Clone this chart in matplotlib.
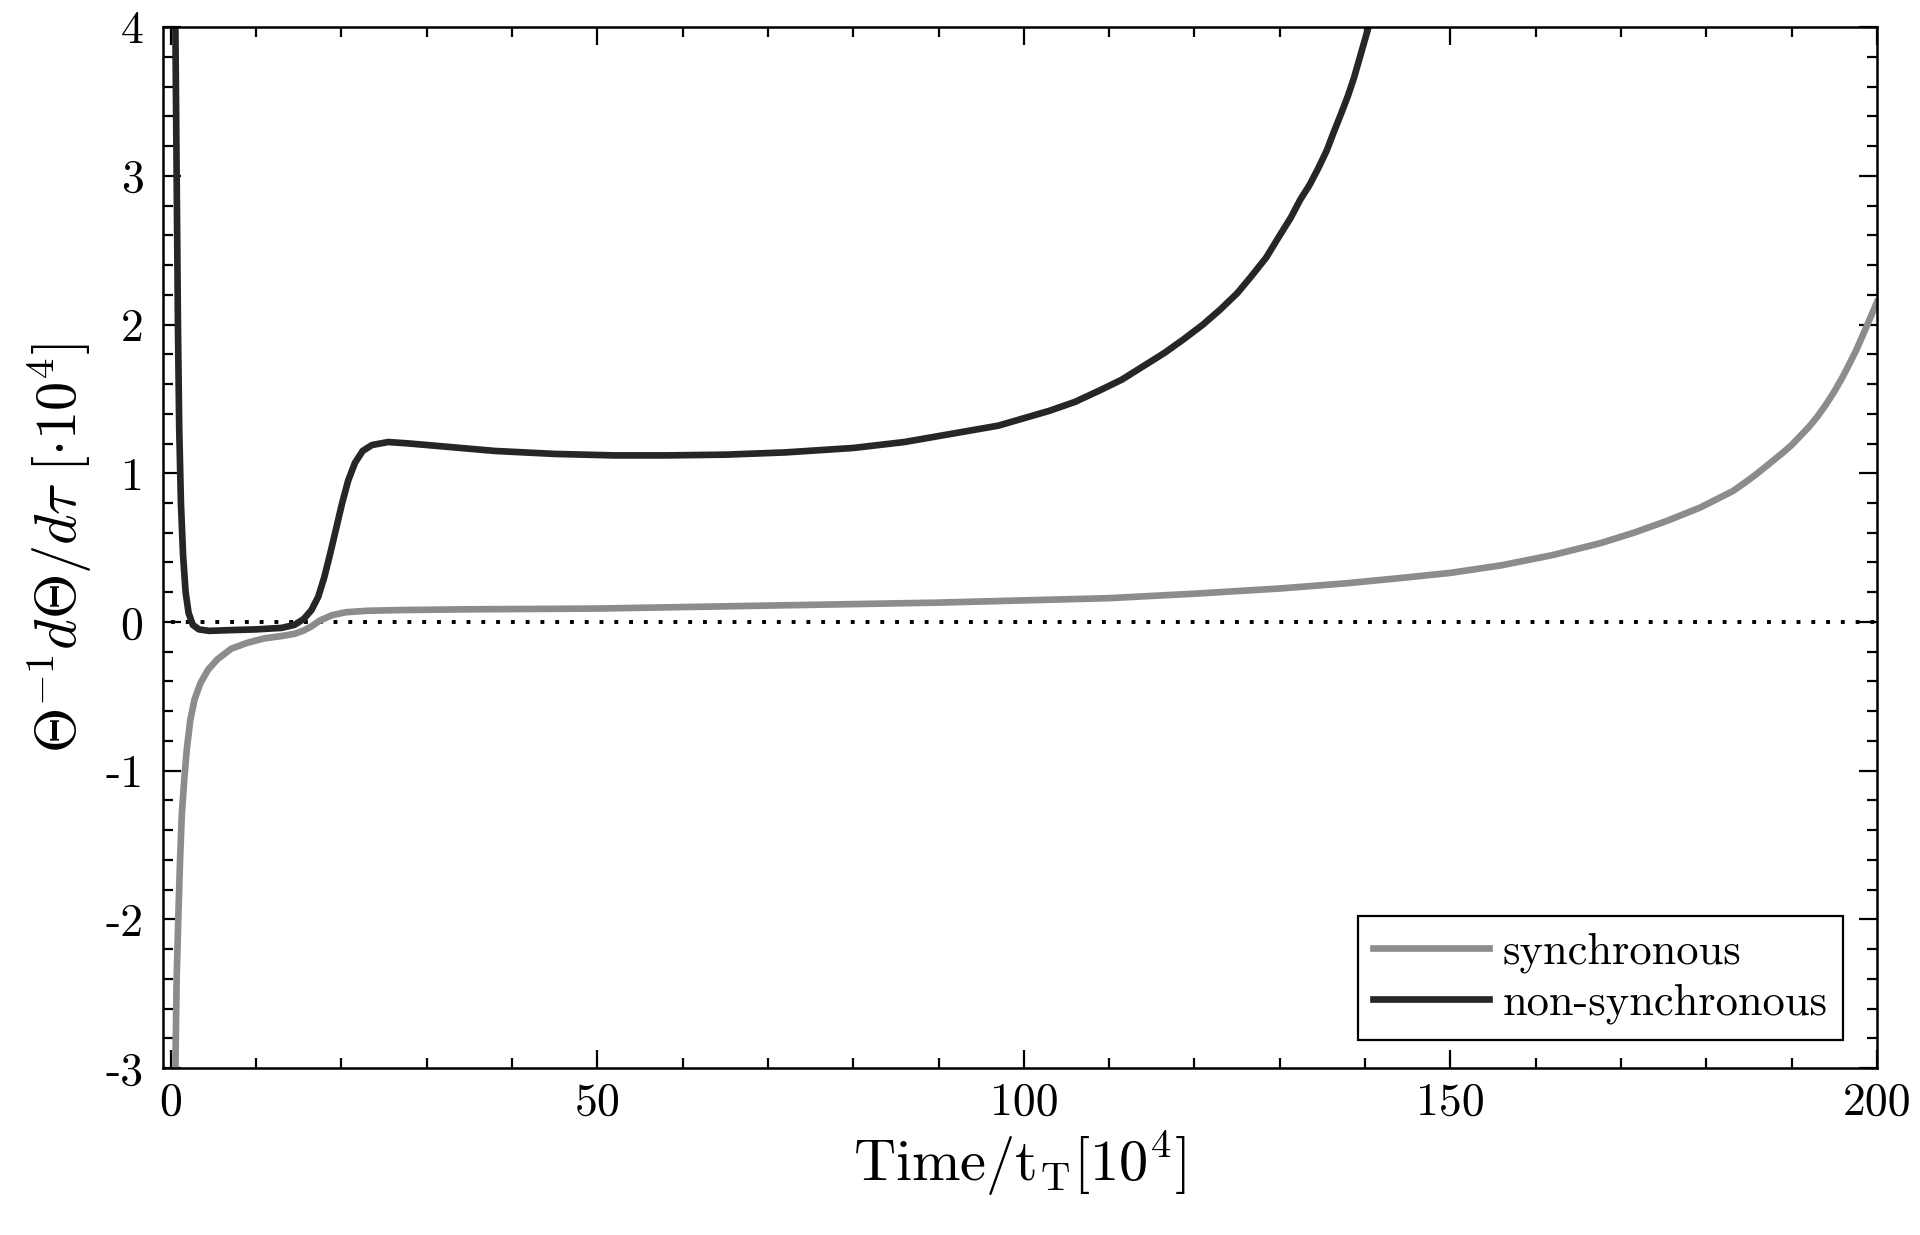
import matplotlib
matplotlib.use('Agg')
import matplotlib.pyplot as plt

plt.rcParams['font.family'] = 'serif'
plt.rcParams['font.serif'] = ['cmr10']
plt.rcParams['mathtext.fontset'] = 'cm'
plt.rcParams['axes.unicode_minus'] = False
plt.rcParams['axes.formatter.use_mathtext'] = True

# non-synchronous (dark) curve
t_nonsync = [0.40, 0.55, 0.70, 0.85, 1.0, 1.2, 1.45, 1.75, 2.1, 2.6, 3.3, 4.5, 7.0, 10.0,
             13.0, 14.5, 15.6, 16.5, 17.3, 18.0, 18.7, 19.4, 20.1, 20.8, 21.6, 22.5,
             23.6, 25.5, 28.0, 32.0, 38.0, 45.0, 52.0, 58.0, 65.0, 72.0, 80.0, 86.0,
             92.0, 97.0, 100.0, 103.0, 106.0, 109.0, 111.5, 114.0, 116.5, 118.7, 121.0,
             123.0, 125.0, 126.6, 128.4, 130.0, 131.3, 132.4, 133.5, 134.5, 135.5,
             136.3, 137.2, 138.0, 138.7, 139.5, 140.3, 141.0]
v_nonsync = [4.6, 4.0, 3.0, 2.0, 1.3, 0.8, 0.45, 0.2, 0.06, -0.02, -0.05, -0.06, -0.055, -0.05,
             -0.04, -0.02, 0.02, 0.08, 0.17, 0.30, 0.46, 0.63, 0.80, 0.95, 1.07, 1.15,
             1.19, 1.21, 1.20, 1.18, 1.15, 1.13, 1.12, 1.12, 1.125, 1.14, 1.17, 1.21,
             1.27, 1.32, 1.37, 1.42, 1.48, 1.56, 1.63, 1.72, 1.81, 1.90, 2.00,
             2.10, 2.21, 2.32, 2.45, 2.60, 2.72, 2.84, 2.94, 3.05, 3.17,
             3.29, 3.42, 3.54, 3.66, 3.82, 3.98, 4.15]

# synchronous (light) curve
t_sync = [0.45, 0.55, 0.70, 0.90, 1.1, 1.3, 1.6, 1.9, 2.3, 2.8, 3.5, 4.4, 5.5, 7.1, 9.0,
          11.0, 13.0, 14.5, 15.5, 16.5, 17.5, 18.9, 20.5, 23.0, 27.0, 35.0, 50.0, 70.0,
          90.0, 100.0, 110.0, 120.0, 130.0, 137.8, 144.1, 150.0, 155.9, 162.0, 167.6,
          171.5, 175.4, 179.3, 183.1, 184.6, 186.0, 187.5, 189.0, 190.0, 191.0, 192.0,
          193.0, 194.0, 195.0, 196.0, 196.8, 197.5, 198.2, 198.8, 199.4, 200.0]
v_sync = [-3.6, -3.0, -2.4, -1.97, -1.6, -1.30, -1.05, -0.85, -0.66, -0.52, -0.41, -0.32,
          -0.25, -0.18, -0.14, -0.11, -0.095, -0.08, -0.06, -0.03, 0.01, 0.045, 0.065,
          0.075, 0.08, 0.085, 0.09, 0.11, 0.13, 0.145, 0.16, 0.19, 0.225, 0.26, 0.295,
          0.33, 0.38, 0.45, 0.53, 0.60, 0.68, 0.77, 0.88, 0.94, 1.0, 1.07, 1.14, 1.19,
          1.25, 1.31, 1.38, 1.46, 1.55, 1.65, 1.74, 1.82, 1.91, 1.99, 2.07, 2.15]

x_ticks = [0, 50, 100, 150, 200]
y_ticks = [-3, -2, -1, 0, 1, 2, 3, 4]

fig = plt.figure(figsize=(19.2, 12.35), dpi=100)
ax = fig.add_axes([0.0849, 0.1352, 0.8927, 0.8428])

ax.plot([0, 200], [0, 0], color='black', lw=2.8, linestyle=(0, (1, 2.8)))
ax.plot(t_sync, v_sync, color='#8c8c8c', lw=4.8, label='synchronous',
        solid_joinstyle='round')
ax.plot(t_nonsync, v_nonsync, color='#262626', lw=4.8, label='non-synchronous',
        solid_joinstyle='round')

ax.set_xlim(-0.9, 200)
ax.set_ylim(-3, 4)
ax.set_xticks(x_ticks)
ax.set_xticklabels([str(v) for v in x_ticks])
ax.set_yticks(y_ticks)
ax.set_yticklabels([str(v) for v in y_ticks])
ax.set_xticks(range(10, 200, 10), minor=True)
ax.set_yticks([y / 5 for y in range(-15, 20)], minor=True)

ax.tick_params(which='both', direction='in', top=True, right=True, width=1.6,
               labelsize=33, color='black')
ax.tick_params(which='major', length=13)
ax.tick_params(which='minor', length=7)
ax.tick_params(axis='x', pad=10)
ax.tick_params(axis='y', pad=14)
for s in ax.spines.values():
    s.set_linewidth(1.8)

ax.set_xlabel(r'$\mathrm{Time/t_T[10^4]}$', fontsize=42, labelpad=4)
ax.set_ylabel(r'$\Theta^{-1}d\Theta/d\tau\ [\cdot 10^4]$', fontsize=42, labelpad=8)

leg = ax.legend(loc='lower right', bbox_to_anchor=(0.980, 0.027), borderaxespad=0,
                fontsize=32, fancybox=False, framealpha=1, edgecolor='black',
                handlelength=2.6, handletextpad=0.3, borderpad=0.35, labelspacing=0.25)
leg.get_frame().set_linewidth(1.6)

fig.savefig('out.png', dpi=100)
